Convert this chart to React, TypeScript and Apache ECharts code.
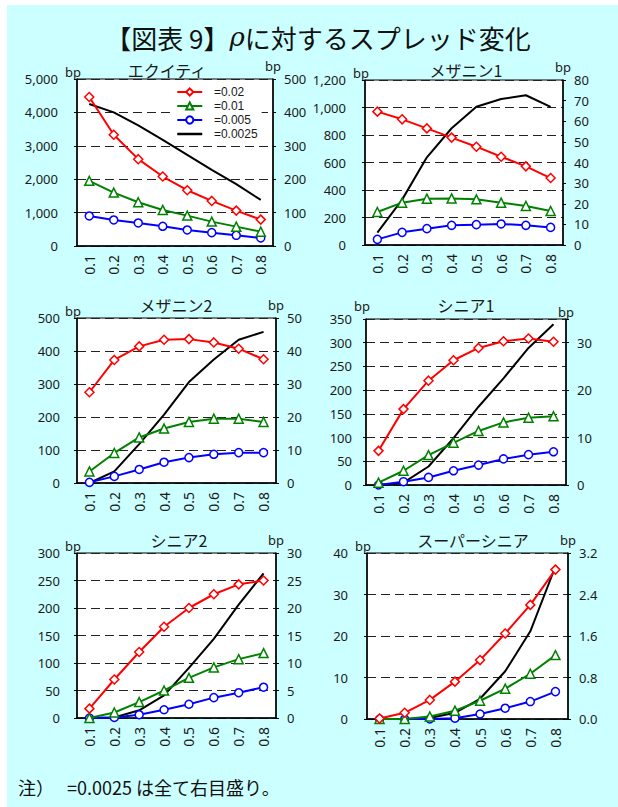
import React, { useEffect, useRef } from "react";
import * as echarts from "echarts";

// ρ categories along the horizontal axis
const rhoLabels = ["0.1", "0.2", "0.3", "0.4", "0.5", "0.6", "0.7", "0.8"];
const seriesNames = ["=0.02", "=0.01", "=0.005", "=0.0025"];

// エクイティ (bp)
const equity002 = [4460, 3330, 2600, 2080, 1670, 1350, 1060, 790];
const equity001 = [1950, 1600, 1310, 1080, 910, 730, 580, 430];
const equity0005 = [900, 780, 690, 590, 480, 400, 320, 240];
const equity00025 = [425, 400, 361, 318, 273, 228, 185, 138];

// メザニン1 (bp)
const mezz1_002 = [970, 914, 848, 781, 715, 642, 572, 487];
const mezz1_001 = [240, 308, 337, 339, 332, 308, 284, 247];
const mezz1_0005 = [41, 92, 119, 143, 148, 153, 143, 128];
const mezz1_00025 = [6, 22, 42.5, 56.6, 67, 70.8, 72.6, 67];

// メザニン2 (bp)
const mezz2_002 = [275, 373, 414, 434, 436, 426, 407, 375];
const mezz2_001 = [35, 91, 138, 165, 185, 195, 195, 185];
const mezz2_0005 = [2, 20, 41, 63, 77, 87, 92, 92];
const mezz2_00025 = [0, 3.5, 11.8, 20.7, 30.6, 37.4, 43.4, 45.8];

// シニア1 (bp)
const senior1_002 = [72, 160, 220, 263, 289, 303, 309, 302];
const senior1_001 = [5, 30, 63, 89, 114, 132, 142, 145];
const senior1_0005 = [0, 7, 16, 30, 42, 55, 64, 70];
const senior1_00025 = [0, 0.5, 3.9, 9.9, 16.5, 22.5, 28.9, 33.9];

// シニア2 (bp)
const senior2_002 = [17, 70, 120, 166, 200, 225, 243, 250];
const senior2_001 = [0, 10, 29, 50, 73, 92, 107, 118];
const senior2_0005 = [0, 1, 6, 15, 25, 37, 46, 56];
const senior2_00025 = [0, 0.1, 1.4, 4.1, 9.1, 14.4, 20.6, 26.3];

// スーパーシニア (bp)
const superSenior002 = [0.1, 1.5, 4.6, 9.0, 14.2, 20.6, 27.5, 36];
const superSenior001 = [0, 0, 0.6, 2.0, 4.4, 7.3, 10.9, 15.4];
const superSenior0005 = [0, 0, 0, 0.2, 1.2, 2.6, 4.2, 6.6];
const superSenior00025 = [0, 0, 0.02, 0.12, 0.39, 0.92, 1.69, 2.94];

// axis ranges: [max, interval] for left and right scales
const leftScales = [
  [5000, 1000],
  [1200, 200],
  [500, 100],
  [350, 50],
  [300, 50],
  [40, 10],
];
const rightScales = [
  [500, 100],
  [80, 10],
  [50, 10],
  [35, 10],
  [30, 5],
  [3.2, 0.8],
];

const panelTitles = ["エクイティ", "メザニン1", "メザニン2", "シニア1", "シニア2", "スーパーシニア"];

const panelData = [
  [equity002, equity001, equity0005, equity00025],
  [mezz1_002, mezz1_001, mezz1_0005, mezz1_00025],
  [mezz2_002, mezz2_001, mezz2_0005, mezz2_00025],
  [senior1_002, senior1_001, senior1_0005, senior1_00025],
  [senior2_002, senior2_001, senior2_0005, senior2_00025],
  [superSenior002, superSenior001, superSenior0005, superSenior00025],
];

// plot rectangles and title anchors
const layout = [
  { left: 77, top: 79, width: 196, height: 167, tx: 167, ty: 70, lm: 19 },
  { left: 365, top: 80, width: 198, height: 165, tx: 466, ty: 70, lm: 19 },
  { left: 77, top: 318, width: 199, height: 165, tx: 176, ty: 305, lm: 17 },
  { left: 366, top: 319, width: 200, height: 166, tx: 466, ty: 305, lm: 14 },
  { left: 77, top: 553, width: 199, height: 165, tx: 179, ty: 540, lm: 17 },
  { left: 367, top: 553, width: 201, height: 166, tx: 473, ty: 540, lm: 19 },
];

const NUM_FONT = "'Noto Sans', 'Liberation Sans', sans-serif";
const LEGEND_FONT = "'Liberation Sans', Arial, sans-serif";
const JP_FONT = "'Noto Sans CJK JP', 'Noto Sans', sans-serif";
const TXT = "#1a1a1a";

const markerStyles = [
  { color: "#ff0000", symbol: "diamond", size: 9 },
  { color: "#008000", symbol: "triangle", size: 9 },
  { color: "#0000ff", symbol: "circle", size: 8 },
  { color: "#000000", symbol: "none", size: 0 },
];

export default function App() {
  const ref = useRef<HTMLDivElement>(null);

  useEffect(() => {
    document.body.style.margin = "0";
    if (!ref.current) return;
    const chart = echarts.init(ref.current, undefined, { renderer: "svg" });

    const grid: any[] = [];
    const xAxis: any[] = [];
    const yAxis: any[] = [];
    const series: any[] = [];
    const graphic: any[] = [];

    layout.forEach((p, i) => {
      grid.push({
        left: p.left,
        top: p.top,
        width: p.width,
        height: p.height,
        show: true,
        backgroundColor: "#ffffff",
        borderColor: "#000000",
        borderWidth: 1,
      });
      xAxis.push({
        type: "category",
        gridIndex: i,
        data: rhoLabels,
        axisLine: { lineStyle: { color: "#000", width: 1.5 } },
        axisTick: { inside: true, length: 5, lineStyle: { color: "#000" } },
        axisLabel: { rotate: 90, margin: 9, fontSize: 14, color: TXT, fontFamily: NUM_FONT },
        splitLine: { show: false },
      });
      const [lMax, lInt] = leftScales[i];
      const [rMax, rInt] = rightScales[i];
      yAxis.push({
        type: "value",
        gridIndex: i,
        position: "left",
        min: 0,
        max: lMax,
        interval: lInt,
        name: "bp",
        nameGap: 1,
        nameTextStyle: { fontSize: 13, color: TXT, fontFamily: NUM_FONT, padding: [0, 8, 0, 0] },
        axisLine: { show: true, lineStyle: { color: "#000", width: 1.5 } },
        axisTick: { show: true, length: 3, lineStyle: { color: "#000" } },
        axisLabel: {
          margin: p.lm,
          fontSize: 13,
          color: TXT,
          fontFamily: NUM_FONT,
          formatter: (v: number) => v.toLocaleString("en-US"),
        },
        splitLine: { show: true, lineStyle: { type: [9, 5], color: "#222", width: 1 } },
      });
      yAxis.push({
        type: "value",
        gridIndex: i,
        position: "right",
        min: 0,
        max: rMax,
        interval: rInt,
        name: "bp",
        nameGap: 1,
        nameTextStyle: { fontSize: 13, color: TXT, fontFamily: NUM_FONT },
        axisLine: { show: true, lineStyle: { color: "#000", width: 1.5 } },
        axisTick: { show: true, length: 3, lineStyle: { color: "#000" } },
        axisLabel: {
          margin: 11,
          fontSize: 13,
          color: TXT,
          fontFamily: NUM_FONT,
          formatter: (v: number) => {
            const k = Math.round(v / rInt);
            if (Math.abs(k * rInt - v) > 1e-9) return "";
            return rInt < 1 ? v.toFixed(1) : String(v);
          },
        },
        splitLine: { show: false },
      });

      panelData[i].forEach((vals, s) => {
        const m = markerStyles[s];
        series.push({
          type: "line",
          name: seriesNames[s],
          xAxisIndex: i,
          yAxisIndex: s === 3 ? i * 2 + 1 : i * 2,
          data: vals,
          symbol: m.symbol,
          symbolSize: m.size,
          showSymbol: s !== 3,
          lineStyle: { color: m.color, width: 2 },
          itemStyle: { color: "#ffffff", borderColor: m.color, borderWidth: 1.5 },
          z: 10 - s,
        });
      });

      graphic.push({
        type: "text",
        x: p.tx,
        y: p.ty,
        style: {
          text: panelTitles[i],
          align: "center",
          verticalAlign: "middle",
          font: `16px ${JP_FONT}`,
          fill: TXT,
        },
      });
    });

    graphic.push({
      type: "text",
      x: 318,
      y: 37,
      style: {
        text: "【図表 9】{r|ρ}に対するスプレッド変化",
        align: "center",
        verticalAlign: "middle",
        font: `26px ${JP_FONT}`,
        fill: "#111",
        rich: {
          r: { fontStyle: "italic", fontSize: 26, fontFamily: "'DejaVu Serif', serif", fill: "#111" },
        },
      },
    });
    graphic.push({
      type: "text",
      x: 18,
      y: 787,
      style: {
        text: "注）　 =0.0025 は全て右目盛り。",
        align: "left",
        verticalAlign: "middle",
        font: `18px ${JP_FONT}`,
        fill: "#111",
      },
    });

    chart.setOption({
      animation: false,
      backgroundColor: "transparent",
      grid,
      xAxis,
      yAxis,
      series,
      graphic,
      legend: {
        show: true,
        orient: "vertical",
        left: 172,
        top: 84,
        padding: [2, 4, 2, 4],
        itemGap: 2,
        itemWidth: 25,
        itemHeight: 9,
        backgroundColor: "#ffffff",
        data: [
          { name: seriesNames[0] },
          { name: seriesNames[1] },
          { name: seriesNames[2] },
          { name: seriesNames[3], itemStyle: { opacity: 0 }, lineStyle: { width: 2.5 } },
        ],
        formatter: (name: string) => "\u00a0\u00a0" + name,
        textStyle: {
          fontSize: 12,
          color: TXT,
          fontFamily: LEGEND_FONT,
        },
      },
    });

    return () => chart.dispose();
  }, []);

  return (
    <div style={{ position: "relative", width: 618, height: 807, background: "#ffffff" }}>
      <div
        style={{
          position: "absolute",
          left: 7,
          top: 5,
          right: 0,
          bottom: 0,
          background: "#ccffff",
        }}
      />
      <div ref={ref} style={{ position: "absolute", left: 0, top: 0, width: 618, height: 807 }} />
    </div>
  );
}
